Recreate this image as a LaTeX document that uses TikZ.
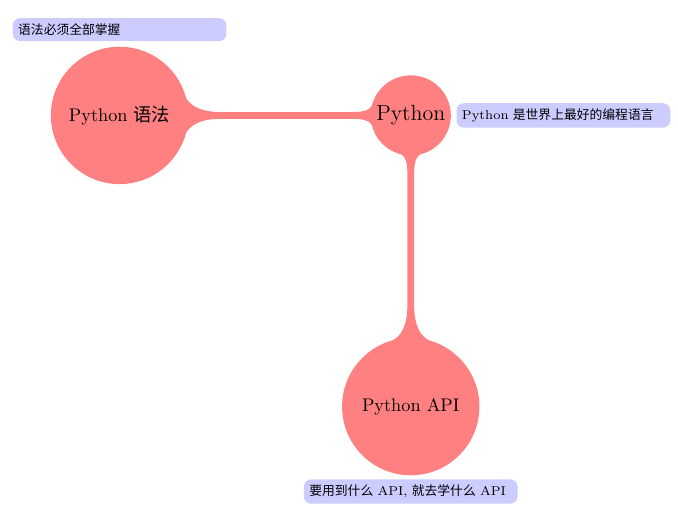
\documentclass[tikz,border=0pt]{standalone}
\usepackage{fontspec}
\newfontfamily\cjk{Noto Sans CJK SC}
\usetikzlibrary{mindmap,positioning}

\begin{document}
\begin{tikzpicture}[
		mindmap,concept color=red!50,
		rootconcept/.style={concept,text width=,minimum size=1.5cm,inner sep=0pt,font=\large,text=black},
		subconcept/.style={concept,text width=,minimum size=2.6cm,inner sep=0pt,font=\normalsize,text=black},
		note/.style={rectangle,fill=blue!20,rounded corners=4pt,minimum size=0pt,text width=3.9cm,inner sep=3pt,align=left,font=\scriptsize,text=black}
		]
		\useasboundingbox (0,0) rectangle (13.04,9.92);
		\node[rootconcept] (py) at (7.9,7.7) {Python};
		\node[subconcept] (grammar) [left=3.55cm of py] {Python {\cjk 语法}};
		\node[subconcept] (api) [below=3.55cm of py] {Python API};
		\path (py) to[circle connection bar switch color=from (red!50) to (red!50)] (grammar);
		\path (py) to[circle connection bar switch color=from (red!50) to (red!50)] (api);
		% notes
		\node[note] (gnote) [above=1.3mm of grammar] {\cjk 语法必须全部掌握};
		\node[note] (pynote) [right=1.3mm of py] {Python {\cjk 是世界上最好的编程语言}};
		\node[note] (apinote) [below=1mm of api] {{\cjk 要用到什么} API, {\cjk 就去学什么} API};
	\end{tikzpicture}
\end{document}
